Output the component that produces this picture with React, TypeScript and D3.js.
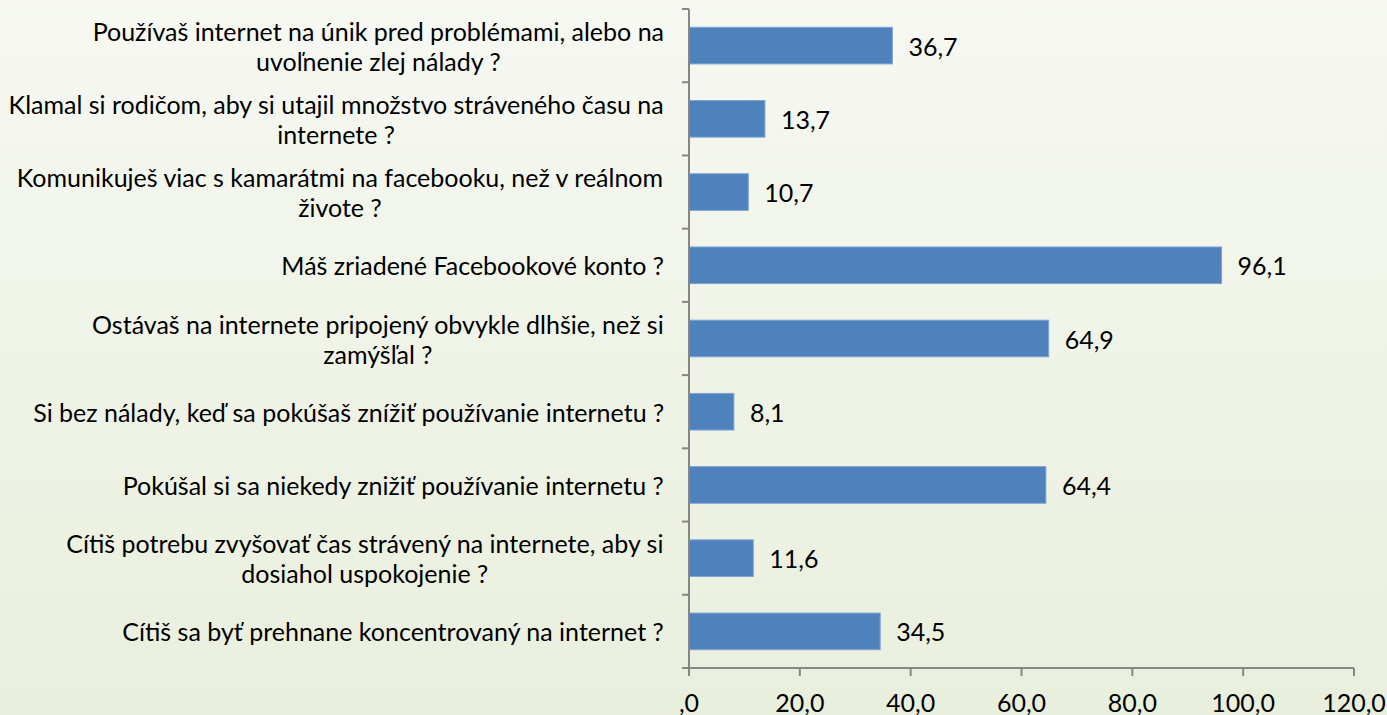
import React from "react";
import * as d3 from "d3";

// otázky (riadky oddelené "|")
const categories = [
  "Používaš internet na únik pred problémami, alebo na|uvoľnenie zlej nálady ?",
  "Klamal si rodičom, aby si utajil množstvo stráveného času na|internete ?",
  "Komunikuješ viac s kamarátmi na facebooku, než v reálnom|živote ?",
  "Máš zriadené Facebookové konto ?",
  "Ostávaš na internete pripojený obvykle dlhšie, než si|zamýšľal ?",
  "Si bez nálady, keď sa pokúšaš znížiť používanie internetu ?",
  "Pokúšal si sa niekedy znižiť používanie internetu ?",
  "Cítiš potrebu zvyšovať čas strávený na internete, aby si|dosiahol uspokojenie ?",
  "Cítiš sa byť prehnane koncentrovaný na internet ?",
];
const values = [36.7, 13.7, 10.7, 96.1, 64.9, 8.1, 64.4, 11.6, 34.5];
const xTickValues = [0, 20, 40, 60, 80, 100, 120];
const xTickLabels = [",0", "20,0", "40,0", "60,0", "80,0", "100,0", "120,0"];

const W = 1387;
const H = 715;
const margin = { left: 689, right: 33, top: 9, bottom: 47 };
const FONT = "Lato, 'Open Sans', sans-serif";
const FS = 25;

let ctx: CanvasRenderingContext2D | null = null;
function textWidth(s: string) {
  if (!ctx) ctx = document.createElement("canvas").getContext("2d");
  if (!ctx) return s.length * FS * 0.5;
  ctx.font = `${FS}px Lato`;
  return ctx.measureText(s).width;
}

export default function App() {
  const innerW = W - margin.left - margin.right;
  const innerH = H - margin.top - margin.bottom;

  const x = d3.scaleLinear().domain([0, 120]).range([0, innerW]);
  const y = d3
    .scaleBand<number>()
    .domain(d3.range(categories.length))
    .range([0, innerH])
    .paddingInner(0.5)
    .paddingOuter(0.25);
  const step = y.step();

  return (
    <div style={{ position: "fixed", left: 0, top: 0 }}>
      <svg width={W} height={H} style={{ display: "block" }}>
        <defs>
          <linearGradient id="bg" x1="0" y1="0" x2="0" y2="1">
            <stop offset="0%" stopColor="#f6f8f2" />
            <stop offset="100%" stopColor="#e9efdd" />
          </linearGradient>
        </defs>
        <rect width={W} height={H} fill="url(#bg)" />
        <g transform={`translate(${margin.left},${margin.top})`}>
          {/* bars */}
          {values.map((v, i) => (
            <rect
              key={i}
              x={0}
              y={y(i)}
              width={x(v)}
              height={y.bandwidth()}
              fill="#4f81bd"
              stroke="#7ea3d2"
              strokeWidth={1}
            />
          ))}
          {/* axes */}
          <g stroke="#868686" strokeWidth={2} fill="none">
            <line x1={0} y1={0} x2={0} y2={innerH} />
            <line x1={0} y1={innerH} x2={innerW} y2={innerH} />
            {d3.range(categories.length + 1).map((i) => (
              <line key={"yt" + i} x1={-7} x2={0} y1={i * step} y2={i * step} />
            ))}
            {xTickValues.map((t) => (
              <line key={"xt" + t} x1={x(t)} x2={x(t)} y1={innerH} y2={innerH + 8} />
            ))}
          </g>
          {/* value labels */}
          {values.map((v, i) => (
            <text
              key={"v" + i}
              x={x(v) + 16}
              y={(y(i) ?? 0) + y.bandwidth() / 2}
              dominantBaseline="central"
              fontFamily={FONT}
              fontSize={FS}
              fill="#000"
            >
              {d3.format(".1f")(v).replace(".", ",")}
            </text>
          ))}
          {/* category labels: block right-aligned, lines centered */}
          {categories.map((c, i) => {
            const lines = c.split("|");
            const cy = (y(i) ?? 0) + y.bandwidth() / 2;
            const lh = 30;
            const maxW = d3.max(lines, (l) => textWidth(l)) ?? 0;
            const cx = -25 - maxW / 2;
            return (
              <text
                key={"c" + i}
                textAnchor="middle"
                fontFamily={FONT}
                fontSize={FS}
                fill="#000"
              >
                {lines.map((l, j) => (
                  <tspan
                    key={j}
                    x={cx}
                    y={cy + (j - (lines.length - 1) / 2) * lh}
                    dominantBaseline="central"
                  >
                    {l}
                  </tspan>
                ))}
              </text>
            );
          })}
          {/* x tick labels */}
          {xTickValues.map((t, i) => (
            <text
              key={"xl" + t}
              x={x(t)}
              y={innerH + 34}
              textAnchor="middle"
              dominantBaseline="central"
              fontFamily={FONT}
              fontSize={FS}
              fill="#000"
            >
              {xTickLabels[i]}
            </text>
          ))}
        </g>
      </svg>
    </div>
  );
}
